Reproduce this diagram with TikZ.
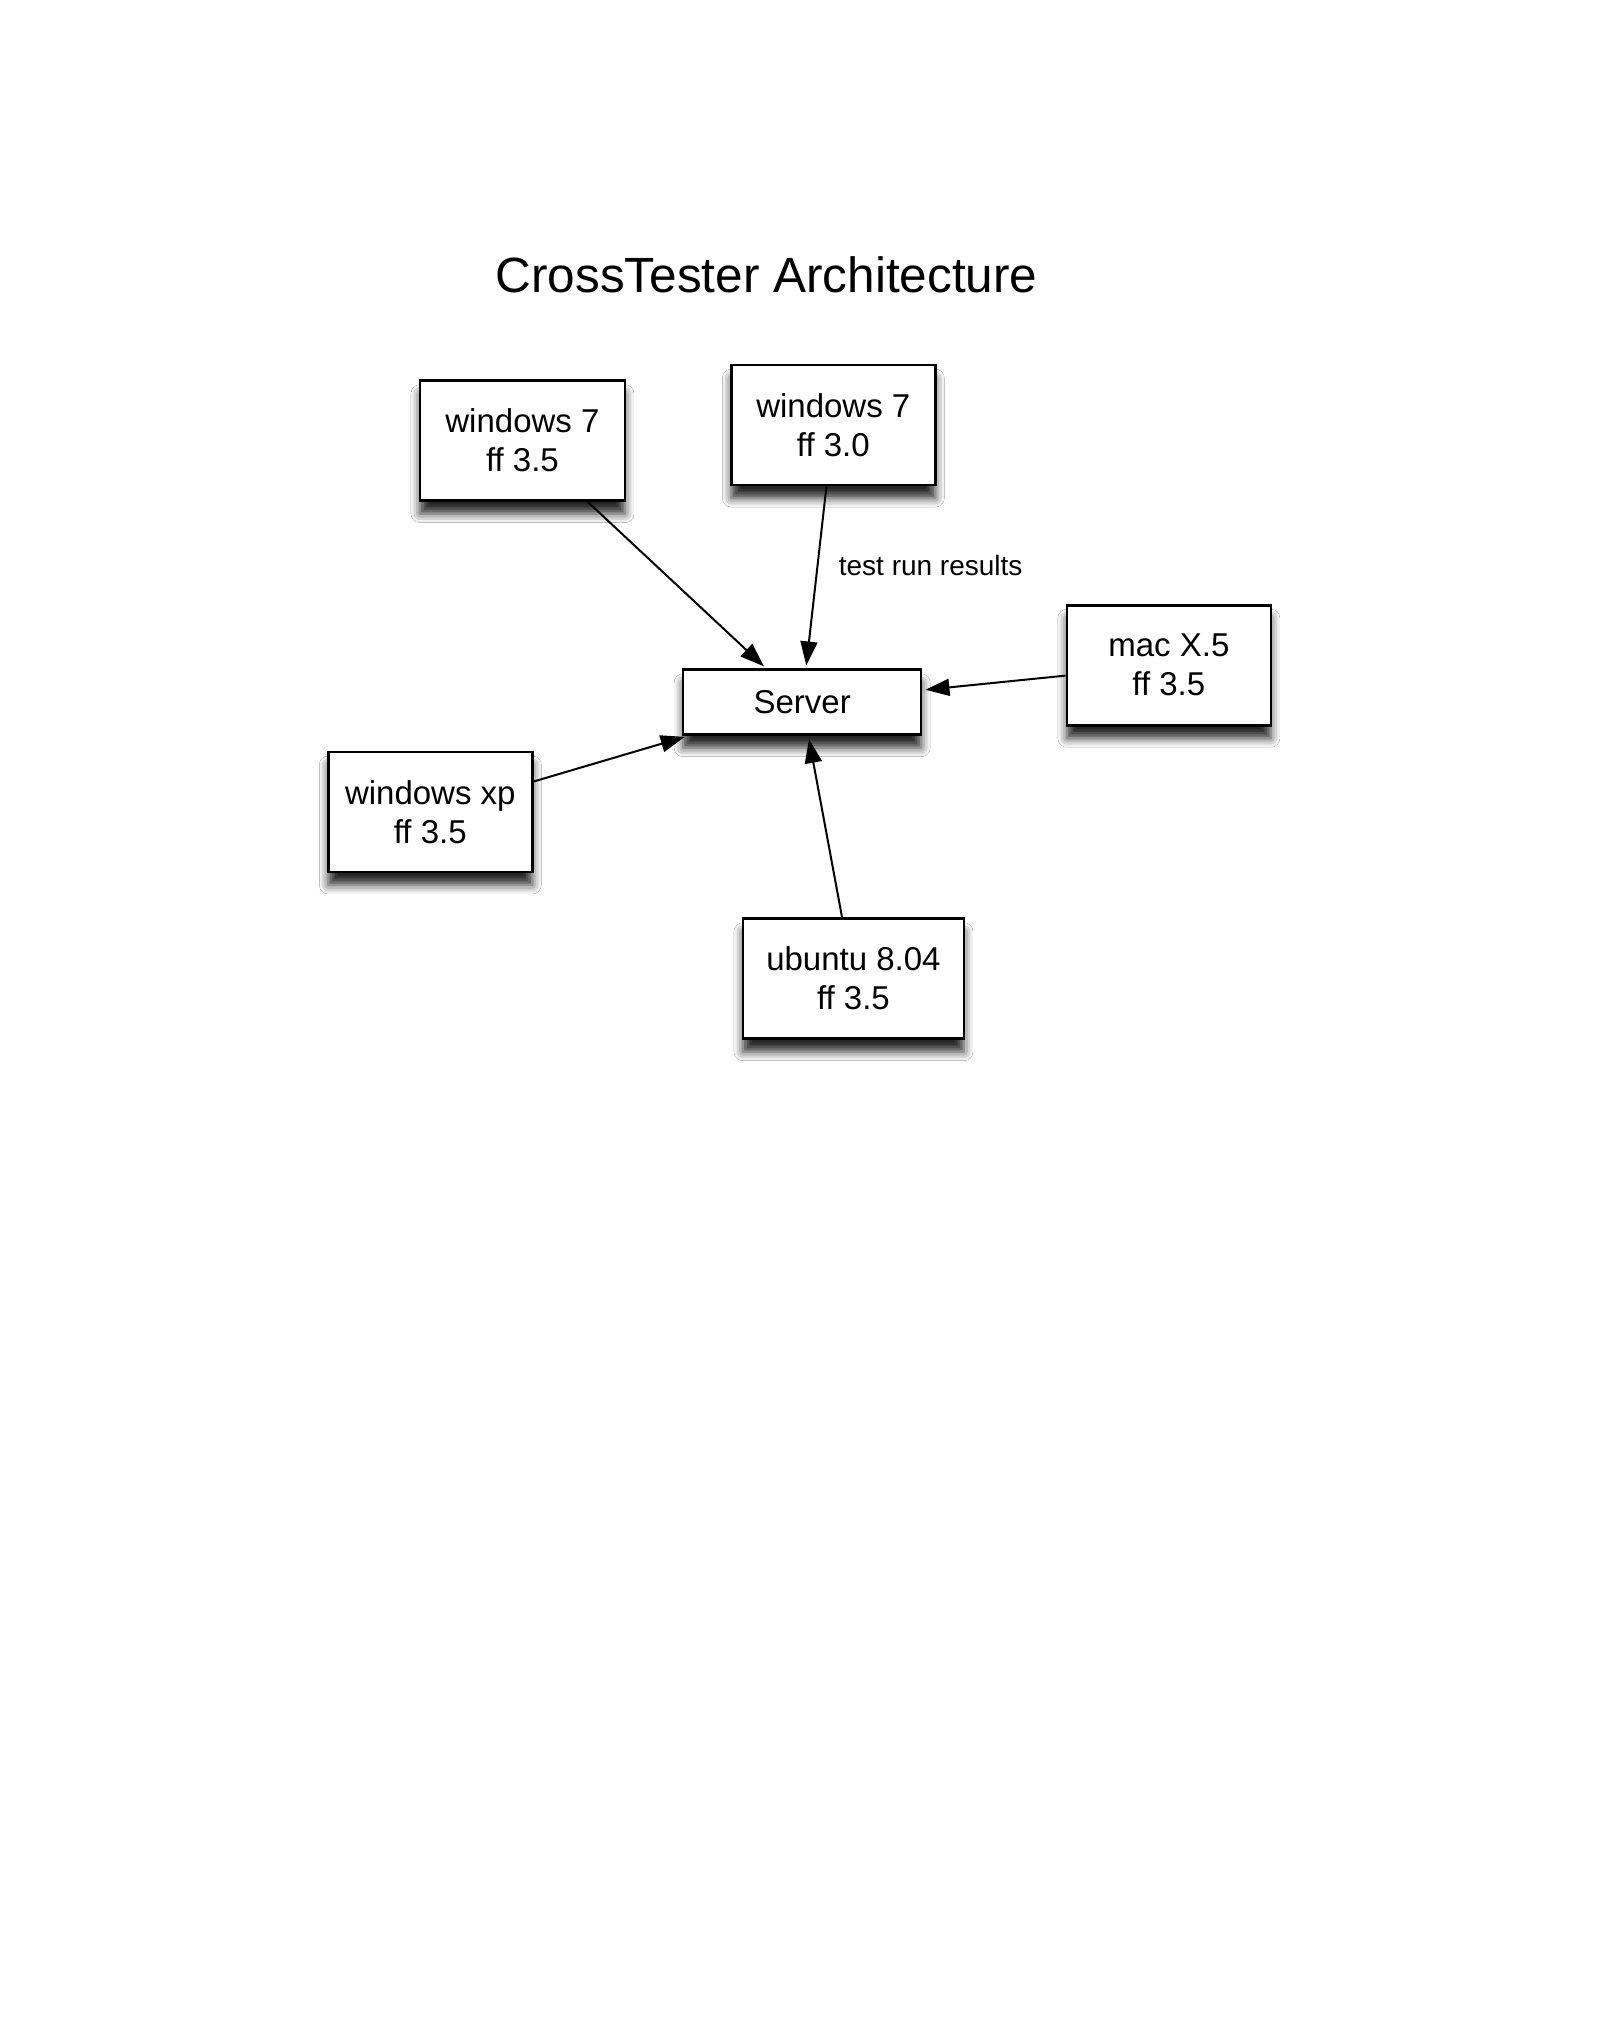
\documentclass[tikz,border=0pt]{standalone}
\usepackage{fontspec}
\setmainfont{Liberation Sans}
\usetikzlibrary{arrows.meta,shadows.blur}
\begin{document}
\begin{tikzpicture}[x=1.298bp,y=-1.298bp,
  hostbox/.style={draw=black,line width=2.6bp,fill=white,align=center,
    font=\fontsize{33bp}{39bp}\selectfont,inner sep=0pt,
    minimum width=204bp,minimum height=120bp,
    blur shadow={shadow xshift=0bp,shadow yshift=-13bp,shadow blur radius=9bp,shadow opacity=85}},
  conn/.style={line width=2bp,-{Triangle[length=24bp,width=17bp]},shorten >=3bp}]
\useasboundingbox (0,0) rectangle (1232.67,1568.57);
\fill[white] (0,0) rectangle (1232.67,1568.57);
\node[anchor=base,font=\fontsize{49.5bp}{58bp}\selectfont] (title) at (590.5,225.7) {CrossTester Architecture};
\node[hostbox,minimum width=238bp,minimum height=65bp] (server) at (618,541) {Server};
\node[hostbox,minimum width=205bp] (a) at (402.5,339.5) {windows 7\\ff 3.5};
\node[hostbox] (b) at (642,327.5) {windows 7\\ff 3.0};
\node[hostbox] (c) at (900.5,512.5) {mac X.5\\ff 3.5};
\node[hostbox] (d) at (331.5,625.5) {windows xp\\ff 3.5};
\node[hostbox,minimum width=221bp] (e) at (657.5,754) {ubuntu 8.04\\ff 3.5};
\node[font=\fontsize{28bp}{33bp}\selectfont] (lbl) at (717,436) {test run results};
\draw[conn] (a) -- (server);
\draw[conn] (b) -- (server);
\draw[conn] (c) -- (server);
\draw[conn] (d) -- (server);
\draw[conn] (e) -- (server);
\end{tikzpicture}
\end{document}
